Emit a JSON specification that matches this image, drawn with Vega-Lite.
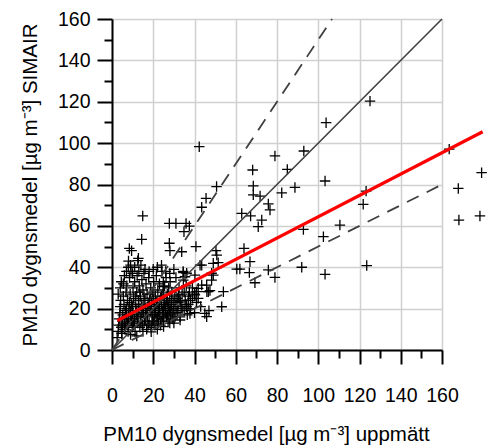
{
  "$schema": "https://vega.github.io/schema/vega-lite/v6.json",
  "width": 330,
  "height": 331,
  "autosize": {"type": "none"},
  "padding": {"left": 112, "top": 19, "right": 45, "bottom": 96},
  "background": "white",
  "config": {
    "view": {"stroke": null},
    "font": "Liberation Sans",
    "axis": {
      "labelFont": "Liberation Sans",
      "titleFont": "Liberation Sans",
      "labelColor": "black",
      "titleColor": "black",
      "titleFontWeight": "normal",
      "domainColor": "black",
      "tickColor": "black"
    }
  },
  "datasets": {
    "pts": [
      {"x":42.3,"y":98.3},{"x":79,"y":93.8},{"x":93,"y":96.2},{"x":68.2,"y":87},{"x":85,"y":87.3},
      {"x":50.7,"y":79},{"x":68.5,"y":79.3},{"x":68.5,"y":75},{"x":71.8,"y":74.4},{"x":82.3,"y":76},
      {"x":88.7,"y":78.6},{"x":45.6,"y":73.3},{"x":43.5,"y":69},{"x":75.8,"y":70.6},{"x":76.6,"y":67.7},
      {"x":62.9,"y":66},{"x":67.2,"y":64.8},{"x":72.6,"y":62.8},{"x":70.9,"y":59.6},{"x":92.8,"y":58.3},
      {"x":27.8,"y":61.2},{"x":31,"y":61.2},{"x":35.9,"y":61.2},{"x":37.5,"y":59.9},{"x":34.9,"y":57.2},
      {"x":27.8,"y":51.6},{"x":28.1,"y":48},{"x":33.8,"y":47.5},{"x":40.7,"y":50},{"x":50.4,"y":48},
      {"x":50.8,"y":45.9},{"x":51.5,"y":42.2},{"x":64,"y":49.1},{"x":66.9,"y":42.7},{"x":43.5,"y":41},
      {"x":60.5,"y":39.1},{"x":62,"y":39.1},{"x":66.6,"y":37.4},{"x":75.8,"y":38.7},{"x":79,"y":35.1},
      {"x":92,"y":40},{"x":69.3,"y":32.5},{"x":48.3,"y":33.8},{"x":49.1,"y":36.2},{"x":40.2,"y":36.2},
      {"x":34.6,"y":37.4},{"x":34.6,"y":33.8},{"x":35.4,"y":35.4},{"x":43.5,"y":31.4},{"x":41,"y":28.2},
      {"x":46,"y":28.2},{"x":47.5,"y":28.7},{"x":24.9,"y":33},{"x":24.9,"y":30.6},
      {"x":125.1,"y":120.3},{"x":103.8,"y":109.9},{"x":103.3,"y":81.7},{"x":163.5,"y":97.1},{"x":179.2,"y":85.7},
      {"x":167.9,"y":78.1},{"x":168.2,"y":62.8},{"x":178.4,"y":64.8},{"x":123.2,"y":76.8},{"x":121.8,"y":70.4},
      {"x":110.5,"y":60.4},{"x":102.5,"y":54.8},{"x":103.3,"y":36.6},{"x":123.5,"y":40.8},
      {"x":14.9,"y":64.8},{"x":14.4,"y":53.5},{"x":8.4,"y":49.1},{"x":9.5,"y":48},{"x":12.8,"y":44.3},
      {"x":12.5,"y":43.2},{"x":7.9,"y":40},{"x":42.7,"y":41},{"x":41.8,"y":29.8},{"x":40.2,"y":26.6},
      {"x":41.8,"y":25},{"x":45.9,"y":31.4},{"x":46.7,"y":28.2},{"x":45,"y":17.7},{"x":45.9,"y":16.1},
      {"x":53.2,"y":20.9},{"x":54,"y":28.2},{"x":48.3,"y":37.1},{"x":49.1,"y":41.9},{"x":36.2,"y":20.9},
      {"x":37.8,"y":17.7},{"x":32.2,"y":26.6},{"x":33,"y":23.3},{"x":36.2,"y":37.1},
      {"x":2.5,"y":6},{"x":3,"y":9},{"x":3.2,"y":12},{"x":3.5,"y":15},{"x":3.8,"y":18},{"x":4,"y":21},
      {"x":4.2,"y":24},{"x":4.5,"y":11},{"x":4.8,"y":8},{"x":5,"y":14},{"x":5.2,"y":17},{"x":5.5,"y":26},
      {"x":5.8,"y":22},{"x":6,"y":10},{"x":6.2,"y":13},{"x":6.5,"y":19},{"x":6.8,"y":28},{"x":7,"y":16},
      {"x":7.2,"y":31},{"x":7.5,"y":24},{"x":7.8,"y":9},{"x":8,"y":12},{"x":8.2,"y":20},{"x":8.5,"y":35},
      {"x":8.8,"y":27},{"x":9,"y":15},{"x":9.2,"y":38},{"x":9.5,"y":22},{"x":9.8,"y":11},{"x":10,"y":18},
      {"x":10.2,"y":30},{"x":10.5,"y":25},{"x":10.8,"y":14},{"x":11,"y":33},{"x":11.2,"y":9},{"x":11.5,"y":21},
      {"x":11.8,"y":17},{"x":12,"y":28},{"x":12.2,"y":36},{"x":12.5,"y":13},{"x":12.8,"y":24},{"x":13,"y":19},
      {"x":13.2,"y":31},{"x":13.5,"y":11},{"x":13.8,"y":26},{"x":14,"y":16},{"x":14.2,"y":22},{"x":14.5,"y":34},
      {"x":14.8,"y":12},{"x":15,"y":29},{"x":15.2,"y":18},{"x":15.5,"y":37},{"x":15.8,"y":14},{"x":16,"y":24},
      {"x":16.2,"y":20},{"x":16.5,"y":32},{"x":16.8,"y":10},{"x":17,"y":27},{"x":17.2,"y":16},{"x":17.5,"y":22},
      {"x":17.8,"y":35},{"x":18,"y":13},{"x":18.2,"y":25},{"x":18.5,"y":19},{"x":18.8,"y":30},{"x":19,"y":11},
      {"x":19.2,"y":23},{"x":19.5,"y":17},{"x":19.8,"y":28},{"x":20,"y":14},{"x":20.2,"y":33},{"x":20.5,"y":21},
      {"x":20.8,"y":12},{"x":21,"y":26},{"x":21.2,"y":18},{"x":21.5,"y":36},{"x":21.8,"y":15},{"x":22,"y":23},
      {"x":22.2,"y":29},{"x":22.5,"y":13},{"x":22.8,"y":20},{"x":23,"y":32},{"x":23.2,"y":17},{"x":23.5,"y":25},
      {"x":23.8,"y":14},{"x":24,"y":22},{"x":24.2,"y":38},{"x":24.5,"y":19},{"x":24.8,"y":28},{"x":25,"y":15},
      {"x":25.2,"y":24},{"x":25.5,"y":31},{"x":25.8,"y":18},{"x":26,"y":21},{"x":26.2,"y":35},{"x":26.5,"y":16},
      {"x":26.8,"y":27},{"x":27,"y":23},{"x":27.2,"y":14},{"x":27.5,"y":30},{"x":27.8,"y":19},{"x":28,"y":25},
      {"x":28.2,"y":33},{"x":28.5,"y":17},{"x":28.8,"y":22},{"x":29,"y":28},{"x":29.5,"y":15},{"x":30,"y":20},
      {"x":30.5,"y":26},{"x":31,"y":35},{"x":31.5,"y":18},{"x":32,"y":23},{"x":32.5,"y":30},{"x":33,"y":16},
      {"x":33.5,"y":21},{"x":34,"y":27},{"x":34.5,"y":38},{"x":35,"y":19},{"x":35.5,"y":24},{"x":36,"y":31},
      {"x":36.5,"y":17},{"x":37,"y":22},{"x":37.5,"y":28},{"x":38,"y":20},{"x":39,"y":25},{"x":40,"y":18},
      {"x":41,"y":23},{"x":43,"y":21},{"x":47,"y":19},
      {"x":5,"y":12},{"x":6,"y":15},{"x":6.5,"y":11},{"x":7,"y":20},{"x":7.5,"y":13},{"x":8,"y":17},
      {"x":8.5,"y":23},{"x":9,"y":19},{"x":9.5,"y":14},{"x":10,"y":21},{"x":10.5,"y":12},{"x":11,"y":15},
      {"x":11.5,"y":26},{"x":12,"y":19},{"x":12.5,"y":16},{"x":13,"y":22},{"x":13.5,"y":28},{"x":14,"y":13},
      {"x":14.5,"y":18},{"x":15,"y":21},{"x":15.5,"y":25},{"x":16,"y":14},{"x":16.5,"y":17},{"x":17,"y":19},
      {"x":17.5,"y":12},{"x":18,"y":22},{"x":18.5,"y":27},{"x":19,"y":20},{"x":19.5,"y":14},{"x":20,"y":24},
      {"x":20.5,"y":17},{"x":21,"y":20},{"x":21.5,"y":23},{"x":22,"y":16},{"x":22.5,"y":19},{"x":23,"y":21},
      {"x":23.5,"y":12},{"x":24,"y":26},{"x":24.5,"y":16},{"x":25,"y":20},{"x":25.5,"y":22},{"x":26,"y":18},
      {"x":26.5,"y":24},{"x":27,"y":17},{"x":27.5,"y":21},{"x":28,"y":13},{"x":28.5,"y":20},{"x":29,"y":24},
      {"x":29.5,"y":18},{"x":30,"y":23},{"x":30.5,"y":16},{"x":31,"y":21},{"x":31.5,"y":25},{"x":32,"y":19},
      {"x":33,"y":24},{"x":34,"y":20},{"x":35,"y":28},{"x":36,"y":22},{"x":37,"y":26},{"x":38,"y":24},
      {"x":39,"y":30},{"x":40,"y":27},{"x":5.5,"y":32},{"x":6,"y":36},{"x":7,"y":38},{"x":8,"y":43},
      {"x":9,"y":41},{"x":10,"y":37},{"x":11,"y":40},{"x":13,"y":38},{"x":14,"y":41},{"x":16,"y":39},
      {"x":18,"y":38},{"x":20,"y":39},{"x":22,"y":40},{"x":24,"y":41},{"x":26,"y":38},{"x":28,"y":37},
      {"x":30,"y":39},{"x":4,"y":30},{"x":3,"y":27},{"x":4.5,"y":33},
      {"x":12,"y":6.8},{"x":19,"y":8.8},{"x":4.7,"y":8},{"x":25,"y":11.3},{"x":33,"y":14.5},{"x":15,"y":9},
      {"x":9,"y":7.5},{"x":22,"y":10},{"x":30,"y":13}
    ],
    "lines": [
      {"x":0,"y":0,"g":"one"},{"x":160,"y":160,"g":"one"},
      {"x":0,"y":0,"g":"up"},{"x":106.7,"y":160,"g":"up"},
      {"x":0,"y":0,"g":"low"},{"x":160,"y":80,"g":"low"},
      {"x":2.6,"y":14.2,"g":"fit"},{"x":179.7,"y":105.5,"g":"fit"}
    ]
  },
  "layer": [
    {
      "data": {"name": "pts"},
      "mark": {"type": "point", "shape": "M-1,0H1M0,-1V1", "size": 110, "filled": false, "stroke": "black", "strokeWidth": 1.3, "opacity": 1},
      "encoding": {
        "x": {"field": "x", "type": "quantitative", "scale": {"domain": [0, 160], "nice": false},
          "axis": {"values": [0,20,40,60,80,100,120,140,160], "orient": "bottom", "grid": true, "gridColor": "#d0d0d0", "gridWidth": 1.5,
            "domainWidth": 2, "tickWidth": 2, "tickSize": 14, "labelFontSize": 19.5, "labelPadding": 22,
            "title": "PM10 dygnsmedel [µg m⁻³] uppmätt", "titleFontSize": 20.5, "titleX": 154, "titleY": 74, "labelFlush": false}},
        "y": {"field": "y", "type": "quantitative", "scale": {"domain": [0, 160], "nice": false},
          "axis": {"values": [0,20,40,60,80,100,120,140,160], "orient": "left", "grid": true, "gridColor": "#d0d0d0", "gridWidth": 1.5,
            "domainWidth": 2, "tickWidth": 2, "tickSize": 15, "labelFontSize": 19.5, "labelPadding": 7,
            "title": "PM10 dygnsmedel [µg m⁻³] SIMAIR", "titleFontSize": 20.5, "titleX": -72, "labelFlush": false}}
      }
    },
    {
      "data": {"name": "lines"},
      "transform": [{"filter": "datum.g === 'one'"}],
      "mark": {"type": "line", "color": "#404040", "strokeWidth": 1.6},
      "encoding": {
        "x": {"field": "x", "type": "quantitative",
          "axis": {"values": [10,30,50,70,90,110,130,150], "orient": "bottom", "grid": false, "labels": false, "domain": false, "tickSize": 8, "tickWidth": 2, "title": null}},
        "y": {"field": "y", "type": "quantitative",
          "axis": {"values": [10,30,50,70,90,110,130,150], "orient": "left", "grid": false, "labels": false, "domain": false, "tickSize": 8, "tickWidth": 2, "title": null}}
      }
    },
    {
      "data": {"name": "lines"},
      "transform": [{"filter": "datum.g === 'up' || datum.g === 'low'"}],
      "mark": {"type": "line", "color": "#404040", "strokeWidth": 1.8, "strokeDash": [13, 9]},
      "encoding": {
        "x": {"field": "x", "type": "quantitative", "axis": null},
        "y": {"field": "y", "type": "quantitative", "axis": null},
        "detail": {"field": "g"}
      }
    },
    {
      "data": {"name": "lines"},
      "transform": [{"filter": "datum.g === 'fit'"}],
      "mark": {"type": "line", "color": "#ff0000", "strokeWidth": 3.2},
      "encoding": {
        "x": {"field": "x", "type": "quantitative", "axis": null},
        "y": {"field": "y", "type": "quantitative", "axis": null}
      }
    }
  ],
  "resolve": {"axis": {"x": "independent", "y": "independent"}}
}
